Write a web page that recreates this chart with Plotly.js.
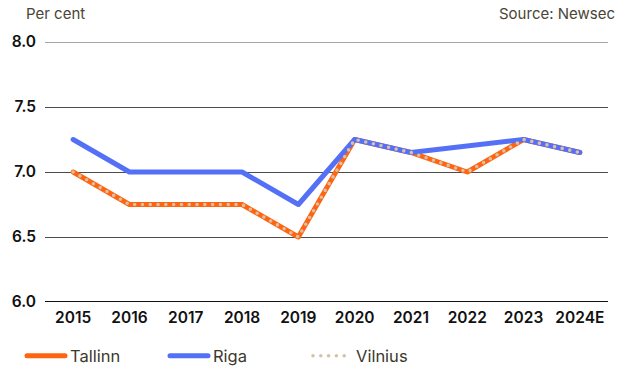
<!DOCTYPE html>
<html>
<head>
<meta charset="utf-8">
<script src="https://cdn.plot.ly/plotly-3.0.1.min.js"></script>
<style>
  html, body { margin: 0; padding: 0; background: #fff; }
  #chart { width: 619px; height: 368px; }
  path.js-line { stroke-linecap: round; stroke-linejoin: round; }
</style>
</head>
<body>
<div id="chart"></div>
<script>
// Prime yields by city, per cent
const years = ['2015', '2016', '2017', '2018', '2019', '2020', '2021', '2022', '2023', '2024E'];
const tallinn = [7.0, 6.75, 6.75, 6.75, 6.5, 7.25, 7.15, 7.0, 7.25, 7.15];
const riga    = [7.25, 7.0, 7.0, 7.0, 6.75, 7.25, 7.15, 7.2, 7.25, 7.15];
const vilnius = [7.0, 6.75, 6.75, 6.75, 6.5, 7.25, 7.15, 7.0, 7.25, 7.15];
const yTicks = [6.0, 6.5, 7.0, 7.5, 8.0];

const FONT = 'Inter, "Noto Sans", sans-serif';
const L = 45, R = 11, T = 42, B = 66, W = 619, H = 368;
const PW = W - L - R, PH = H - T - B;

const traces = [
  { name: 'Tallinn', x: years, y: tallinn, type: 'scatter', mode: 'lines',
    line: { color: '#ff6410', width: 5 } },
  { name: 'Riga', x: years, y: riga, type: 'scatter', mode: 'lines',
    line: { color: '#5470f6', width: 5 } },
  { name: 'Vilnius', x: years, y: vilnius, type: 'scatter', mode: 'lines',
    line: { color: '#d8c0a6', width: 3.6, dash: '0px,7.8px' } }
];

const layout = {
  width: W, height: H,
  margin: { l: L, r: R, t: T, b: B, autoexpand: false },
  paper_bgcolor: '#ffffff', plot_bgcolor: '#ffffff',
  font: { family: FONT, size: 14, color: '#111111' },
  showlegend: true,
  legend: {
    orientation: 'h', xref: 'paper', yref: 'paper',
    x: (22 - L) / PW, y: (H - B - 356) / PH, xanchor: 'left', yanchor: 'middle',
    entrywidth: 90, entrywidthmode: 'pixels', itemwidth: 38,
    font: { family: FONT, size: 16.5, color: '#3c382c' },
    traceorder: 'normal'
  },
  xaxis: {
    type: 'category', range: [-0.5, 9.5], fixedrange: true,
    showgrid: false, zeroline: false,
    showline: false, ticks: '', ticklabelstandoff: 4,
    tickfont: { family: FONT, size: 15.5, color: '#111111', weight: 600 }
  },
  yaxis: {
    range: [6, 8], tickvals: yTicks, tickformat: '.1f',
    showgrid: true, gridcolor: '#4d4d4d', gridwidth: 1,
    zeroline: false, showline: false, ticks: '', ticklabelstandoff: 8,
    tickfont: { family: FONT, size: 15.5, color: '#111111', weight: 600 }
  },
  shapes: [
    // top gridline sits on the range edge, so draw it explicitly
    { type: 'line', xref: 'paper', yref: 'y', x0: 0, x1: 1, y0: yTicks[4], y1: yTicks[4],
      line: { color: '#4d4d4d', width: 1 } },
    // heavier baseline
    { type: 'line', xref: 'paper', yref: 'y', x0: 0, x1: 1, y0: yTicks[0], y1: yTicks[0],
      line: { color: '#111111', width: 2.2 } }
  ],
  annotations: [
    { text: 'Per cent', xref: 'paper', yref: 'paper',
      x: (24 - L) / PW, y: (H - B - 14) / PH,
      xanchor: 'left', yanchor: 'middle', showarrow: false,
      font: { family: FONT, size: 15, color: '#4a4536' } },
    { text: 'Source: Newsec', xref: 'paper', yref: 'paper',
      x: (617 - L) / PW, y: (H - B - 14) / PH,
      xanchor: 'right', yanchor: 'middle', showarrow: false,
      font: { family: FONT, size: 15, color: '#4a4536' } }
  ]
};

Plotly.newPlot('chart', traces, layout, { displayModeBar: false, staticPlot: true });
</script>
</body>
</html>
